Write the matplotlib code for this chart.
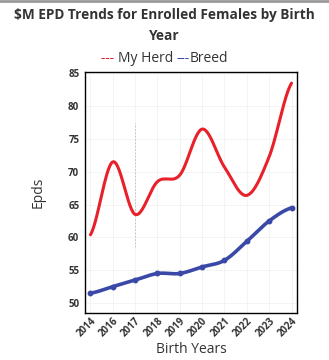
import numpy as np
import matplotlib
matplotlib.use("Agg")
import matplotlib.pyplot as plt

plt.rcParams['font.family'] = ['Open Sans', 'DejaVu Sans']

years = ["2014", "2016", "2017", "2018", "2019", "2020", "2021", "2022", "2023", "2024"]
my_herd = [60.4, 71.5, 63.5, 68.5, 69.5, 76.5, 70.7, 66.4, 72.3, 83.5]
breed = [51.5, 52.5, 53.5, 54.5, 54.5, 55.5, 56.5, 59.4, 62.5, 64.5]

RED = "#e8202a"
BLUE = "#3a48a8"
TEXT = "#333333"


def smooth(xs, ys, n=30, tension=0.5):
    """Cardinal spline through the given points."""
    xs = np.asarray(xs, float)
    ys = np.asarray(ys, float)
    px = np.concatenate([[2 * xs[0] - xs[1]], xs, [2 * xs[-1] - xs[-2]]])
    py = np.concatenate([[ys[0]], ys, [ys[-1]]])
    out_x, out_y = [], []
    t = np.linspace(0, 1, n)
    for i in range(1, len(px) - 2):
        m1x = tension * (px[i + 1] - px[i - 1])
        m1y = tension * (py[i + 1] - py[i - 1])
        m2x = tension * (px[i + 2] - px[i])
        m2y = tension * (py[i + 2] - py[i])
        h00 = 2 * t**3 - 3 * t**2 + 1
        h10 = t**3 - 2 * t**2 + t
        h01 = -2 * t**3 + 3 * t**2
        h11 = t**3 - t**2
        out_x.append(h00 * px[i] + h10 * m1x + h01 * px[i + 1] + h11 * m2x)
        out_y.append(h00 * py[i] + h10 * m1y + h01 * py[i + 1] + h11 * m2y)
    return np.concatenate(out_x), np.concatenate(out_y)


fig = plt.figure(figsize=(3.29, 3.6), dpi=100)
fig.patch.set_facecolor("white")
ax = fig.add_axes([0.258, 0.131, 0.645, 0.669])

x = np.arange(len(years))

# hover guide
ax.plot([2, 2], [58.5, 77.5], color="#bbbbbb", lw=0.6, ls=(0, (2, 2)), zorder=1)

hx, hy = smooth(x, my_herd)
ax.plot(hx, hy, color=RED, lw=2.2, solid_capstyle="round", zorder=3)

bx, by = smooth(x, breed)
ax.plot(bx, by, color=BLUE, lw=2.6, solid_capstyle="round", zorder=3)
ax.plot(x, breed, "o", color=BLUE, ms=3.2, zorder=4)

ax.set_xlim(-0.25, len(years) - 0.75)
ax.set_ylim(48.5, 85.2)
ax.set_yticks([50, 55, 60, 65, 70, 75, 80, 85])
ax.set_xticks(x)
ax.set_xticklabels(years, rotation=45, ha="right", rotation_mode="anchor",
                   fontsize=7, fontweight="bold", color=TEXT)
for lab in ax.get_yticklabels():
    lab.set_fontsize(7)
    lab.set_fontweight("bold")
    lab.set_color(TEXT)
ax.tick_params(axis="both", length=0, pad=4)
ax.tick_params(axis="x", pad=2)
for s in ax.spines.values():
    s.set_color("black")
    s.set_linewidth(1.0)
ax.grid(True, color="#f2f2f2", lw=0.6)
ax.set_axisbelow(True)

ax.set_ylabel("Epds", fontsize=10, color=TEXT, labelpad=16)
ax.set_xlabel("Birth Years", fontsize=10, color=TEXT, labelpad=2)

fig.text(0.5, 0.958, "$M EPD Trends for Enrolled Females by Birth",
         ha="center", va="center", fontsize=9.8, fontweight="bold", color=TEXT)
fig.text(0.5, 0.901, "Year", ha="center", va="center",
         fontsize=9.8, fontweight="bold", color=TEXT)

# legend built from coloured text runs
pieces = [("--- ", RED), ("My Herd ", TEXT), ("---", BLUE), ("Breed", TEXT)]
fig.canvas.draw()
renderer = fig.canvas.get_renderer()
widths = []
tmp = []
for s, c in pieces:
    t = fig.text(0, 0, s, fontsize=10, color=c)
    widths.append(t.get_window_extent(renderer).width)
    tmp.append(t)
total = sum(widths)
start = (fig.bbox.width - total) / 2
pos = start
for t, w in zip(tmp, widths):
    t.set_position((pos / fig.bbox.width, 0.838))
    t.set_va("center")
    pos += w

# thin grey rule at the very top
fig.add_artist(plt.Line2D([0, 1], [0.997, 0.997], color="#999999", lw=2,
                          transform=fig.transFigure))

fig.savefig("out.png", dpi=100, facecolor="white")
